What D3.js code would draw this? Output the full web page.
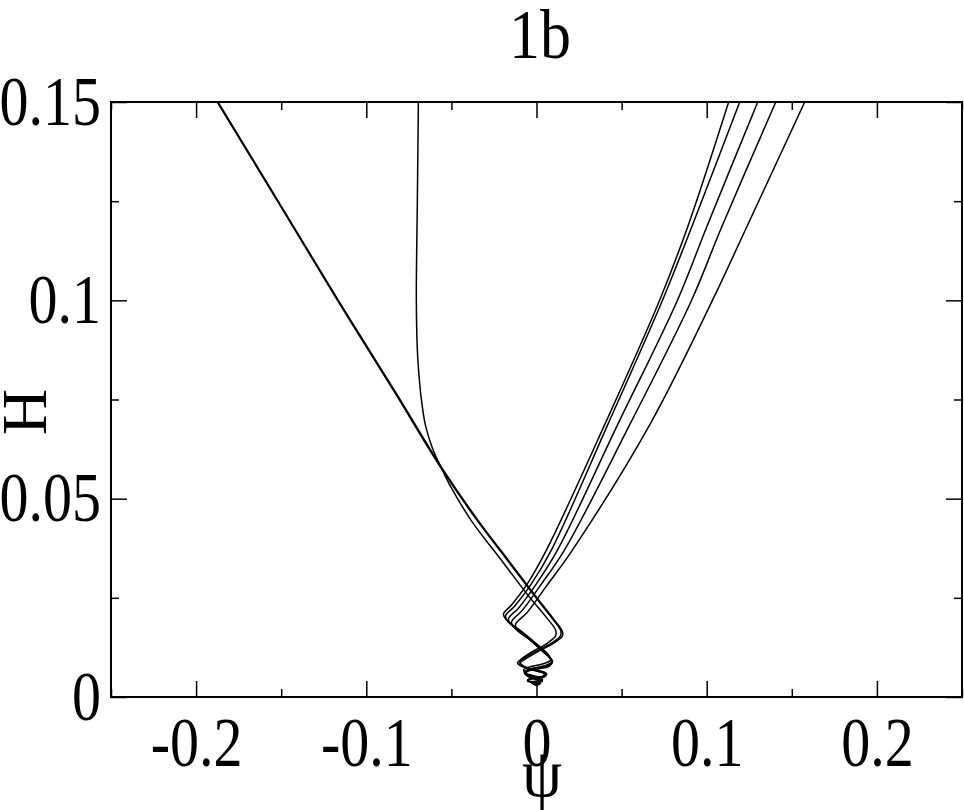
<!DOCTYPE html>
<html><head><meta charset="utf-8">
<script src="https://cdn.jsdelivr.net/npm/d3@7"></script>
<style>body{margin:0;background:#fff} text{font-family:"Liberation Serif","Times New Roman",serif;fill:#000}</style>
</head><body><svg id="chart" width="964" height="810"></svg>
<script>
const xDomain = [-0.25, 0.25];
const yDomain = [0, 0.15];
const xMajor = [-0.2, -0.1, 0, 0.1, 0.2];
const xMinor = [-0.25, -0.15, -0.05, 0.05, 0.15, 0.25];
const xTickLabels = ["-0.2", "-0.1", "0", "0.1", "0.2"];
const yMajor = [0, 0.05, 0.1, 0.15];
const yMinor = [0.025, 0.075, 0.125];
const yTickLabels = ["0", "0.05", "0.1", "0.15"];
const titleText = "1b";
const xLabelText = "ψ";
const yLabelText = "H";

// left straight branch (two nearly coincident trajectories)
const curveA1_psi = [-0.1876,-0.1512,-0.1171,-0.0835,-0.0553,-0.0347,-0.0159,-0.0012,0.0094,0.0141,0.0141,0.0088,0.0,-0.0071,-0.0100,-0.0076,0.0,0.0053,0.0041,-0.0029,-0.0053,-0.0024,0.0018,0.0];
const curveA1_H   = [0.1500,0.1243,0.1001,0.0769,0.0572,0.0444,0.0338,0.0255,0.0197,0.0169,0.0154,0.0136,0.0116,0.0098,0.0088,0.0078,0.0068,0.0061,0.0053,0.0048,0.0043,0.0038,0.0035,0.0030];
const curveA2_psi = [-0.1871,-0.1508,-0.1166,-0.0829,-0.0547,-0.0341,-0.0153,-0.0006,0.0100,0.0153,0.0150,0.0094,0.0006,-0.0065,-0.0094,-0.0070,0.0006,0.0059,0.0047,-0.0024,-0.0047,-0.0018,0.0024,0.0006];
const curveA2_H   = [0.1500,0.1243,0.1001,0.0769,0.0572,0.0444,0.0338,0.0255,0.0197,0.0164,0.0152,0.0134,0.0114,0.0096,0.0086,0.0076,0.0066,0.0059,0.0051,0.0046,0.0041,0.0037,0.0034,0.0030];
// near-vertical branch
const curveB_psi = [-0.0694,-0.0700,-0.0706,-0.0700,-0.0688,-0.0676,-0.0653,-0.0612,-0.0553,-0.0500,-0.0382,-0.0194,-0.0047,0.0065,0.0112,0.0112,0.0065,-0.0018,-0.0088,-0.0112,-0.0082,-0.0006,0.0047,0.0029,-0.0041,-0.0053,-0.0012,0.0];
const curveB_H   = [0.1500,0.1253,0.1001,0.0875,0.0799,0.0749,0.0686,0.0628,0.0572,0.0527,0.0444,0.0338,0.0255,0.0197,0.0169,0.0154,0.0136,0.0116,0.0096,0.0086,0.0076,0.0066,0.0058,0.0050,0.0045,0.0040,0.0035,0.0030];
// right-hand family
const curveC1_psi = [0.1129,0.0888,0.0724,0.0400,0.0059,-0.0059,-0.0147,-0.0194,-0.0176,-0.0100,0.0,0.0071,0.0082,0.0035,-0.0041,-0.0076,-0.0053,0.0018,0.0035,-0.0006,-0.0035,-0.0006];
const curveC1_H   = [0.1500,0.1185,0.1001,0.0686,0.0371,0.0282,0.0232,0.0209,0.0194,0.0169,0.0134,0.0106,0.0093,0.0083,0.0076,0.0068,0.0058,0.0050,0.0045,0.0040,0.0038,0.0033];
const curveC2_psi = [0.1194,0.0912,0.0741,0.0418,0.0088,-0.0035,-0.0129,-0.0182,-0.0165,-0.0088,0.0006,0.0076,0.0088,0.0041,-0.0041,-0.0071,-0.0041,0.0024,0.0035,-0.0012,-0.0029,0.0];
const curveC2_H   = [0.1500,0.1185,0.1001,0.0686,0.0371,0.0282,0.0229,0.0204,0.0189,0.0164,0.0129,0.0101,0.0088,0.0078,0.0071,0.0063,0.0053,0.0048,0.0043,0.0038,0.0035,0.0030];
const curveC3_psi = [0.1300,0.1000,0.0829,0.0476,0.0124,-0.0006,-0.0106,-0.0165,-0.0147,-0.0071,0.0018,0.0082,0.0088,0.0035,-0.0047,-0.0071,-0.0035,0.0029,0.0029,-0.0018,-0.0006];
const curveC3_H   = [0.1500,0.1185,0.1001,0.0686,0.0371,0.0282,0.0224,0.0197,0.0182,0.0156,0.0124,0.0098,0.0086,0.0076,0.0068,0.0061,0.0050,0.0045,0.0040,0.0035,0.0030];
const curveC4_psi = [0.1406,0.1088,0.0912,0.0547,0.0165,0.0024,-0.0082,-0.0147,-0.0129,-0.0053,0.0029,0.0088,0.0082,0.0024,-0.0053,-0.0065,-0.0024,0.0035,0.0018,-0.0024,0.0];
const curveC4_H   = [0.1500,0.1185,0.1001,0.0686,0.0371,0.0282,0.0219,0.0189,0.0174,0.0149,0.0118,0.0093,0.0081,0.0073,0.0066,0.0058,0.0048,0.0043,0.0038,0.0035,0.0030];
const curveC5_psi = [0.1576,0.1235,0.1035,0.0665,0.0212,0.0059,-0.0053,-0.0124,-0.0106,-0.0035,0.0041,0.0094,0.0076,0.0012,-0.0059,-0.0059,-0.0012,0.0035,0.0006,-0.0012];
const curveC5_H   = [0.1500,0.1185,0.1001,0.0686,0.0371,0.0280,0.0214,0.0182,0.0166,0.0144,0.0113,0.0091,0.0078,0.0071,0.0063,0.0055,0.0045,0.0040,0.0035,0.0033];

const series = [
  [curveA1_psi, curveA1_H], [curveA2_psi, curveA2_H], [curveB_psi, curveB_H],
  [curveC1_psi, curveC1_H], [curveC2_psi, curveC2_H], [curveC3_psi, curveC3_H],
  [curveC4_psi, curveC4_H], [curveC5_psi, curveC5_H]
].map(([p, h]) => p.map((v, i) => [v, h[i]]));

const L = 111, R = 962, T = 102, B = 697;
const svg = d3.select("#chart");
const x = d3.scaleLinear().domain(xDomain).range([L, R]);
const y = d3.scaleLinear().domain(yDomain).range([B, T]);

svg.append("defs").append("clipPath").attr("id", "clip")
  .append("rect").attr("x", L).attr("y", T).attr("width", R - L).attr("height", B - T);

const line = d3.line().x(d => x(d[0])).y(d => y(d[1])).curve(d3.curveCatmullRom.alpha(0.5));
svg.append("g").attr("clip-path", "url(#clip)")
  .selectAll("path").data(series).join("path")
  .attr("d", line).attr("fill", "none").attr("stroke", "#000").attr("stroke-width", 1.5);

const fontSize = 58, stretch = 1.2;
function styleAxis(g) {
  g.select(".domain").remove();
  g.selectAll(".tick line").attr("stroke", "#000").attr("stroke-width", 1.5);
  g.selectAll("text").attr("font-family", "Liberation Serif, Times New Roman, serif")
    .attr("font-size", fontSize).attr("fill", "#000").attr("transform", `scale(1,${stretch})`);
}
// bottom
svg.append("g").attr("transform", `translate(0,${B})`)
  .call(d3.axisBottom(x).tickValues(xMajor).tickSize(-16).tickPadding(16).tickFormat((d, i) => xTickLabels[i])).call(styleAxis);
svg.append("g").attr("transform", `translate(0,${B})`)
  .call(d3.axisBottom(x).tickValues(xMinor).tickSize(-8).tickFormat("")).call(styleAxis);
// top
svg.append("g").attr("transform", `translate(0,${T})`)
  .call(d3.axisTop(x).tickValues(xMajor).tickSize(-16).tickFormat("")).call(styleAxis);
svg.append("g").attr("transform", `translate(0,${T})`)
  .call(d3.axisTop(x).tickValues(xMinor).tickSize(-8).tickFormat("")).call(styleAxis);
// left
svg.append("g").attr("transform", `translate(${L},0)`)
  .call(d3.axisLeft(y).tickValues(yMajor).tickSize(-16).tickPadding(10).tickFormat((d, i) => yTickLabels[i])).call(styleAxis);
svg.append("g").attr("transform", `translate(${L},0)`)
  .call(d3.axisLeft(y).tickValues(yMinor).tickSize(-8).tickFormat("")).call(styleAxis);
// right
svg.append("g").attr("transform", `translate(${R},0)`)
  .call(d3.axisRight(y).tickValues(yMajor).tickSize(-16).tickFormat("")).call(styleAxis);
svg.append("g").attr("transform", `translate(${R},0)`)
  .call(d3.axisRight(y).tickValues(yMinor).tickSize(-8).tickFormat("")).call(styleAxis);

svg.append("rect").attr("x", L).attr("y", T).attr("width", R - L).attr("height", B - T)
  .attr("fill", "none").attr("stroke", "#000").attr("stroke-width", 2);

svg.append("text").attr("transform", "translate(540,58) scale(1,1.12)").attr("text-anchor", "middle").attr("font-size", 62).text(titleText);
svg.append("text").attr("transform", "translate(542,796) scale(1,1.07)").attr("text-anchor", "middle").attr("font-size", 64).text(xLabelText);
svg.append("text").attr("transform", "translate(46,412) rotate(-90)").attr("text-anchor", "middle").attr("font-size", 64).text(yLabelText);
</script></body></html>
